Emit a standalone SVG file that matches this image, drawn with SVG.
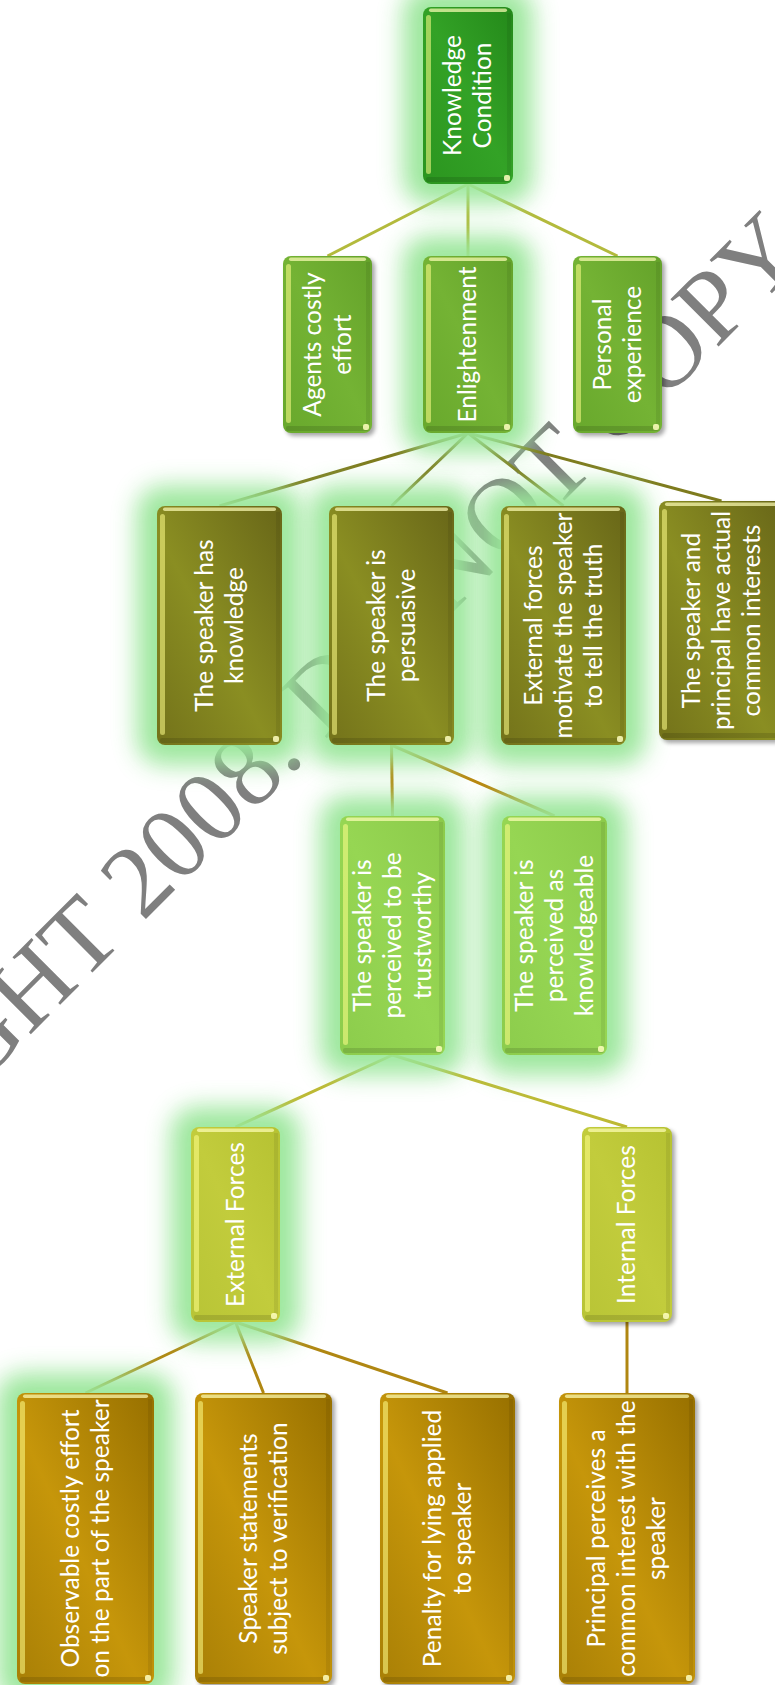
<svg xmlns="http://www.w3.org/2000/svg" width="775" height="1685" viewBox="0 0 775 1685">
<defs>
<style>
.lbl{font-family:Lato,"Liberation Sans",sans-serif;font-size:24.5px;fill:#ffffff;text-anchor:middle}
.wm{font-family:"Liberation Serif",serif;font-size:103px;fill:#7f7f7f}
.glow{fill:#98e698;opacity:.95;filter:url(#blur)}
.shadow{fill:#000;opacity:.35;filter:url(#sblur)}
.shB{fill:#000;opacity:.12}
.shR{fill:#000;opacity:.07}
.hiT{fill:#ffffb8;opacity:.7}
.hiL{fill:#ffff8a;opacity:.55}
.dot{fill:#ffffc0;opacity:.85}
#connectors line{stroke-width:3;fill:none}
.c1{stroke:#b3ba3c}
.c2{stroke:#7e7b1e}
.c3{stroke:#b8860f}
.c4{stroke:#bdb934}
.c5{stroke:#b08712}
</style>
<filter id="blur" x="-50%" y="-50%" width="200%" height="200%"><feGaussianBlur stdDeviation="12"/></filter>
<filter id="sblur" x="-20%" y="-20%" width="140%" height="140%"><feGaussianBlur stdDeviation="2"/></filter>
<linearGradient id="gKC" x1="1" y1="0" x2="0" y2="1"><stop offset="0" stop-color="#24891a"/><stop offset="0.5" stop-color="#33a226"/><stop offset="1" stop-color="#2b951f"/></linearGradient>
<linearGradient id="gL2" x1="1" y1="0" x2="0" y2="1"><stop offset="0" stop-color="#64a22a"/><stop offset="0.5" stop-color="#74b334"/><stop offset="1" stop-color="#68a82c"/></linearGradient>
<linearGradient id="gOl" x1="1" y1="0" x2="0" y2="1"><stop offset="0" stop-color="#686618"/><stop offset="0.55" stop-color="#8a8e22"/><stop offset="1" stop-color="#73721a"/></linearGradient>
<linearGradient id="gLG" x1="1" y1="0" x2="0" y2="1"><stop offset="0" stop-color="#8cca4a"/><stop offset="0.5" stop-color="#96d653"/><stop offset="1" stop-color="#8ccc4c"/></linearGradient>
<linearGradient id="gYG" x1="1" y1="0" x2="0" y2="1"><stop offset="0" stop-color="#b6c232"/><stop offset="0.5" stop-color="#c2cc3c"/><stop offset="1" stop-color="#b8c436"/></linearGradient>
<linearGradient id="gGd" x1="1" y1="0" x2="0" y2="1"><stop offset="0" stop-color="#977000"/><stop offset="0.55" stop-color="#c6960a"/><stop offset="1" stop-color="#a87f06"/></linearGradient>
</defs>
<rect x="0" y="0" width="775" height="1685" fill="#ffffff"/>

<text class="wm" x="-291" y="1356" transform="rotate(-45 -291 1356)">COPYRIGHT 2008. DO NOT COPY</text>

<g id="connectors">
<line class="c1" x1="468" y1="184" x2="327.5" y2="256"/>
<line class="c1" x1="468" y1="184" x2="468" y2="256"/>
<line class="c1" x1="468" y1="184" x2="617.5" y2="256"/>
<line class="c2" x1="468" y1="433" x2="219.5" y2="506"/>
<line class="c2" x1="468" y1="433" x2="391.5" y2="506"/>
<line class="c2" x1="468" y1="433" x2="563.5" y2="506"/>
<line class="c2" x1="468" y1="433" x2="721.5" y2="501"/>
<line class="c3" x1="391.5" y1="745" x2="392.5" y2="816"/>
<line class="c3" x1="391.5" y1="745" x2="554.5" y2="816"/>
<line class="c4" x1="392.5" y1="1055" x2="235.5" y2="1127"/>
<line class="c4" x1="392.5" y1="1055" x2="627" y2="1127"/>
<line class="c5" x1="235.5" y1="1322" x2="85.5" y2="1393"/>
<line class="c5" x1="235.5" y1="1322" x2="263.5" y2="1393"/>
<line class="c5" x1="235.5" y1="1322" x2="447.5" y2="1393"/>
<line class="c5" x1="627" y1="1322" x2="627" y2="1393"/>
</g>

<g id="n-knowledge-condition">
<rect class="glow" x="403" y="-13" width="130" height="217" rx="26"/>
<rect x="423" y="7" width="90" height="177" rx="8" fill="url(#gKC)"/>
<rect class="shB" x="426" y="177" width="84" height="5" rx="2"/>
<rect class="shR" x="507" y="13" width="4" height="163"/>
<rect class="hiT" x="429" y="8.5" width="78" height="3.5" rx="1.75"/>
<rect class="hiL" x="426" y="15" width="5" height="159" rx="2.5"/>
<rect class="dot" x="504" y="175" width="6" height="6" rx="2"/>
<text class="lbl" transform="translate(468,95.5) rotate(-90)"><tspan x="0" y="-7">Knowledge</tspan><tspan x="0" y="23">Condition</tspan></text>
</g>

<g id="n-agents">
<rect class="shadow" x="286" y="259" width="89" height="177" rx="8"/>
<rect x="283" y="256" width="89" height="177" rx="8" fill="url(#gL2)"/>
<rect class="shB" x="286" y="426" width="83" height="5" rx="2"/>
<rect class="shR" x="366" y="262" width="4" height="163"/>
<rect class="hiT" x="289" y="257.5" width="77" height="3.5" rx="1.75"/>
<rect class="hiL" x="286" y="264" width="5" height="159" rx="2.5"/>
<rect class="dot" x="363" y="424" width="6" height="6" rx="2"/>
<text class="lbl" transform="translate(327.5,344.5) rotate(-90)"><tspan x="0" y="-7">Agents costly</tspan><tspan x="0" y="23">effort</tspan></text>
</g>

<g id="n-enlightenment">
<rect class="glow" x="403" y="236" width="130" height="217" rx="26"/>
<rect x="423" y="256" width="90" height="177" rx="8" fill="url(#gL2)"/>
<rect class="shB" x="426" y="426" width="84" height="5" rx="2"/>
<rect class="shR" x="507" y="262" width="4" height="163"/>
<rect class="hiT" x="429" y="257.5" width="78" height="3.5" rx="1.75"/>
<rect class="hiL" x="426" y="264" width="5" height="159" rx="2.5"/>
<rect class="dot" x="504" y="424" width="6" height="6" rx="2"/>
<text class="lbl" transform="translate(468,344.5) rotate(-90)"><tspan x="0" y="8">Enlightenment</tspan></text>
</g>

<g id="n-personal">
<rect class="shadow" x="576" y="259" width="89" height="177" rx="8"/>
<rect x="573" y="256" width="89" height="177" rx="8" fill="url(#gL2)"/>
<rect class="shB" x="576" y="426" width="83" height="5" rx="2"/>
<rect class="shR" x="656" y="262" width="4" height="163"/>
<rect class="hiT" x="579" y="257.5" width="77" height="3.5" rx="1.75"/>
<rect class="hiL" x="576" y="264" width="5" height="159" rx="2.5"/>
<rect class="dot" x="653" y="424" width="6" height="6" rx="2"/>
<text class="lbl" transform="translate(617.5,344.5) rotate(-90)"><tspan x="0" y="-7">Personal</tspan><tspan x="0" y="23">experience</tspan></text>
</g>

<g id="n-has-knowledge">
<rect class="glow" x="137" y="486" width="165" height="279" rx="26"/>
<rect x="157" y="506" width="125" height="239" rx="8" fill="url(#gOl)"/>
<rect class="shB" x="160" y="738" width="119" height="5" rx="2"/>
<rect class="shR" x="276" y="512" width="4" height="225"/>
<rect class="hiT" x="163" y="507.5" width="113" height="3.5" rx="1.75"/>
<rect class="hiL" x="160" y="514" width="5" height="221" rx="2.5"/>
<rect class="dot" x="273" y="736" width="6" height="6" rx="2"/>
<text class="lbl" transform="translate(219.5,625.5) rotate(-90)"><tspan x="0" y="-7">The speaker has</tspan><tspan x="0" y="23">knowledge</tspan></text>
</g>

<g id="n-persuasive">
<rect class="glow" x="309" y="486" width="165" height="279" rx="26"/>
<rect x="329" y="506" width="125" height="239" rx="8" fill="url(#gOl)"/>
<rect class="shB" x="332" y="738" width="119" height="5" rx="2"/>
<rect class="shR" x="448" y="512" width="4" height="225"/>
<rect class="hiT" x="335" y="507.5" width="113" height="3.5" rx="1.75"/>
<rect class="hiL" x="332" y="514" width="5" height="221" rx="2.5"/>
<rect class="dot" x="445" y="736" width="6" height="6" rx="2"/>
<text class="lbl" transform="translate(391.5,625.5) rotate(-90)"><tspan x="0" y="-7">The speaker is</tspan><tspan x="0" y="23">persuasive</tspan></text>
</g>

<g id="n-external-motivate">
<rect class="glow" x="481" y="486" width="165" height="279" rx="26"/>
<rect x="501" y="506" width="125" height="239" rx="8" fill="url(#gOl)"/>
<rect class="shB" x="504" y="738" width="119" height="5" rx="2"/>
<rect class="shR" x="620" y="512" width="4" height="225"/>
<rect class="hiT" x="507" y="507.5" width="113" height="3.5" rx="1.75"/>
<rect class="hiL" x="504" y="514" width="5" height="221" rx="2.5"/>
<rect class="dot" x="617" y="736" width="6" height="6" rx="2"/>
<text class="lbl" transform="translate(563.5,625.5) rotate(-90)"><tspan x="0" y="-22">External forces</tspan><tspan x="0" y="8">motivate the speaker</tspan><tspan x="0" y="38">to tell the truth</tspan></text>
</g>

<g id="n-common-interests">
<rect class="shadow" x="662" y="504" width="125" height="239" rx="8"/>
<rect x="659" y="501" width="125" height="239" rx="8" fill="url(#gOl)"/>
<rect class="shB" x="662" y="733" width="119" height="5" rx="2"/>
<rect class="hiT" x="665" y="502.5" width="113" height="3.5" rx="1.75"/>
<rect class="hiL" x="662" y="509" width="5" height="221" rx="2.5"/>
<text class="lbl" transform="translate(721.5,620.5) rotate(-90)"><tspan x="0" y="-22">The speaker and</tspan><tspan x="0" y="8">principal have actual</tspan><tspan x="0" y="38">common interests</tspan></text>
</g>

<g id="n-trustworthy">
<rect class="glow" x="320" y="796" width="145" height="279" rx="26"/>
<rect x="340" y="816" width="105" height="239" rx="8" fill="url(#gLG)"/>
<rect class="shB" x="343" y="1048" width="99" height="5" rx="2"/>
<rect class="shR" x="439" y="822" width="4" height="225"/>
<rect class="hiT" x="346" y="817.5" width="93" height="3.5" rx="1.75"/>
<rect class="hiL" x="343" y="824" width="5" height="221" rx="2.5"/>
<rect class="dot" x="436" y="1046" width="6" height="6" rx="2"/>
<text class="lbl" transform="translate(392.5,935.5) rotate(-90)"><tspan x="0" y="-22">The speaker is</tspan><tspan x="0" y="8">perceived to be</tspan><tspan x="0" y="38">trustworthy</tspan></text>
</g>

<g id="n-knowledgeable">
<rect class="glow" x="482" y="796" width="145" height="279" rx="26"/>
<rect x="502" y="816" width="105" height="239" rx="8" fill="url(#gLG)"/>
<rect class="shB" x="505" y="1048" width="99" height="5" rx="2"/>
<rect class="shR" x="601" y="822" width="4" height="225"/>
<rect class="hiT" x="508" y="817.5" width="93" height="3.5" rx="1.75"/>
<rect class="hiL" x="505" y="824" width="5" height="221" rx="2.5"/>
<rect class="dot" x="598" y="1046" width="6" height="6" rx="2"/>
<text class="lbl" transform="translate(554.5,935.5) rotate(-90)"><tspan x="0" y="-22">The speaker is</tspan><tspan x="0" y="8">perceived as</tspan><tspan x="0" y="38">knowledgeable</tspan></text>
</g>

<g id="n-external-forces">
<rect class="glow" x="171" y="1107" width="129" height="235" rx="26"/>
<rect x="191" y="1127" width="89" height="195" rx="8" fill="url(#gYG)"/>
<rect class="shB" x="194" y="1315" width="83" height="5" rx="2"/>
<rect class="shR" x="274" y="1133" width="4" height="181"/>
<rect class="hiT" x="197" y="1128.5" width="77" height="3.5" rx="1.75"/>
<rect class="hiL" x="194" y="1135" width="5" height="177" rx="2.5"/>
<rect class="dot" x="271" y="1313" width="6" height="6" rx="2"/>
<text class="lbl" transform="translate(235.5,1224.5) rotate(-90)"><tspan x="0" y="8">External Forces</tspan></text>
</g>

<g id="n-internal-forces">
<rect class="shadow" x="585" y="1130" width="90" height="195" rx="8"/>
<rect x="582" y="1127" width="90" height="195" rx="8" fill="url(#gYG)"/>
<rect class="shB" x="585" y="1315" width="84" height="5" rx="2"/>
<rect class="shR" x="666" y="1133" width="4" height="181"/>
<rect class="hiT" x="588" y="1128.5" width="78" height="3.5" rx="1.75"/>
<rect class="hiL" x="585" y="1135" width="5" height="177" rx="2.5"/>
<rect class="dot" x="663" y="1313" width="6" height="6" rx="2"/>
<text class="lbl" transform="translate(627,1224.5) rotate(-90)"><tspan x="0" y="8">Internal Forces</tspan></text>
</g>

<g id="n-observable">
<rect class="glow" x="-3" y="1373" width="177" height="331" rx="26"/>
<rect x="17" y="1393" width="137" height="291" rx="8" fill="url(#gGd)"/>
<rect class="shB" x="20" y="1677" width="131" height="5" rx="2"/>
<rect class="shR" x="148" y="1399" width="4" height="277"/>
<rect class="hiT" x="23" y="1394.5" width="125" height="3.5" rx="1.75"/>
<rect class="hiL" x="20" y="1401" width="5" height="273" rx="2.5"/>
<rect class="dot" x="145" y="1675" width="6" height="6" rx="2"/>
<text class="lbl" transform="translate(85.5,1538.5) rotate(-90)"><tspan x="0" y="-7">Observable costly effort</tspan><tspan x="0" y="23">on the part of the speaker</tspan></text>
</g>

<g id="n-verification">
<rect class="shadow" x="198" y="1396" width="137" height="291" rx="8"/>
<rect x="195" y="1393" width="137" height="291" rx="8" fill="url(#gGd)"/>
<rect class="shB" x="198" y="1677" width="131" height="5" rx="2"/>
<rect class="shR" x="326" y="1399" width="4" height="277"/>
<rect class="hiT" x="201" y="1394.5" width="125" height="3.5" rx="1.75"/>
<rect class="hiL" x="198" y="1401" width="5" height="273" rx="2.5"/>
<rect class="dot" x="323" y="1675" width="6" height="6" rx="2"/>
<text class="lbl" transform="translate(263.5,1538.5) rotate(-90)"><tspan x="0" y="-7">Speaker statements</tspan><tspan x="0" y="23">subject to verification</tspan></text>
</g>

<g id="n-penalty">
<rect class="shadow" x="383" y="1396" width="135" height="291" rx="8"/>
<rect x="380" y="1393" width="135" height="291" rx="8" fill="url(#gGd)"/>
<rect class="shB" x="383" y="1677" width="129" height="5" rx="2"/>
<rect class="shR" x="509" y="1399" width="4" height="277"/>
<rect class="hiT" x="386" y="1394.5" width="123" height="3.5" rx="1.75"/>
<rect class="hiL" x="383" y="1401" width="5" height="273" rx="2.5"/>
<rect class="dot" x="506" y="1675" width="6" height="6" rx="2"/>
<text class="lbl" transform="translate(447.5,1538.5) rotate(-90)"><tspan x="0" y="-7">Penalty for lying applied</tspan><tspan x="0" y="23">to speaker</tspan></text>
</g>

<g id="n-principal">
<rect class="shadow" x="562" y="1396" width="136" height="291" rx="8"/>
<rect x="559" y="1393" width="136" height="291" rx="8" fill="url(#gGd)"/>
<rect class="shB" x="562" y="1677" width="130" height="5" rx="2"/>
<rect class="shR" x="689" y="1399" width="4" height="277"/>
<rect class="hiT" x="565" y="1394.5" width="124" height="3.5" rx="1.75"/>
<rect class="hiL" x="562" y="1401" width="5" height="273" rx="2.5"/>
<rect class="dot" x="686" y="1675" width="6" height="6" rx="2"/>
<text class="lbl" transform="translate(627,1538.5) rotate(-90)"><tspan x="0" y="-22">Principal perceives a</tspan><tspan x="0" y="8">common interest with the</tspan><tspan x="0" y="38">speaker</tspan></text>
</g>
</svg>
